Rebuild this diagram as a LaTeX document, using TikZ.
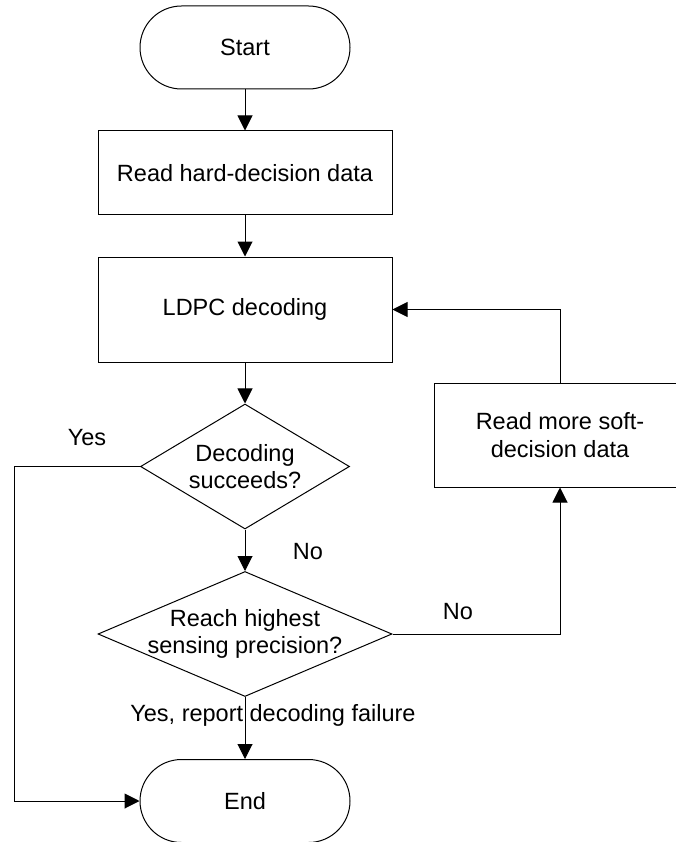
\documentclass[tikz,border=0pt]{standalone}
\usepackage{fontspec}
\setmainfont{Liberation Sans}
\usetikzlibrary{arrows.meta, shapes.geometric}

\begin{document}
\begin{tikzpicture}[x = 1pt, y = -1pt,
                    >={Triangle[length = 15pt, width = 15pt]},
                    line width = 1pt,
                    font = \fontsize{23.5}{27.5}\selectfont,
                    term/.style = {draw, rectangle, rounded corners = 41.5pt,
                                   minimum width = 210pt, minimum height = 83pt},
                    proc/.style = {draw, rectangle, align = center, inner sep = 0pt},
                    dia/.style  = {draw, diamond, inner sep = 0pt, minimum height = 125pt},
                    txt/.style  = {align = center, inner sep = 0pt}
                   ]
     \useasboundingbox (0,0) rectangle (676,842);

     \node[term] (start) at (245,47.5) {Start};
     \node[proc, minimum width = 294pt, minimum height = 84pt] (hard) at (245,173) {Read hard-decision data};
     \node[proc, minimum width = 294pt, minimum height = 105pt] (ldpc) at (245,309.5) {LDPC decoding};

     \node[dia, minimum width = 209pt,
           label = {[txt]center:Decoding\\succeeds?}] (succ) at (245,466.5) {};
     \node[dia, minimum width = 294pt,
           label = {[txt]center:Reach highest\\sensing precision?}] (reach) at (245,634) {};

     \node[proc, minimum width = 252pt, minimum height = 104pt] (soft) at (560,435) {Read more soft-\\decision data};
     \node[term] (end) at (245,801) {End};

     \coordinate (yesturn) at (14,466.5);

     \draw[->] (start) -- (hard);
     \draw[->] (hard) -- (ldpc);
     \draw[->] (ldpc) -- (succ);
     \draw[->] (succ) -- (reach);
     \draw[->] (reach) -- (end);
     \draw[->] (succ.west) -- (yesturn) |- (end.west);
     \draw[->] (reach.east) -| (soft.south);
     \draw[->] (soft.north) |- (ldpc.east);

     \node[txt] (yes1) at (87,438) {Yes};
     \node[txt] (no1) at (308,552) {No};
     \node[txt] (no2) at (458,612) {No};
     \node[txt] (fail) at (273,715) {Yes, report decoding failure};
\end{tikzpicture}
\end{document}
